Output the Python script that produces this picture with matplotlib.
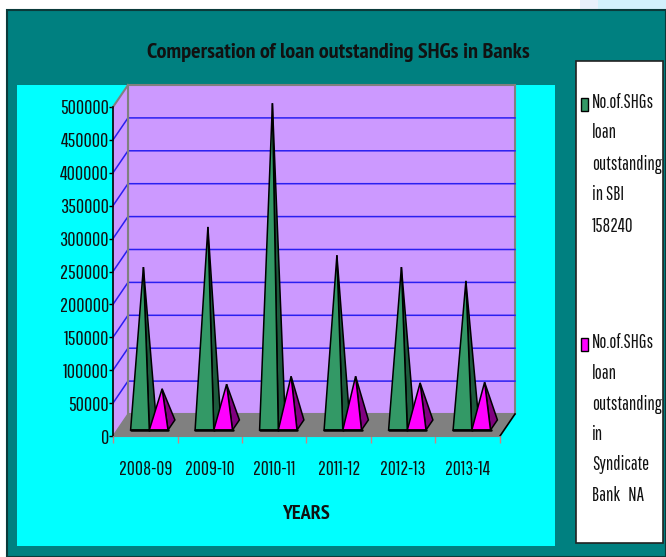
import matplotlib
matplotlib.use("Agg")
import matplotlib.pyplot as plt
from matplotlib.patches import Polygon, Rectangle

# Nombre de SHG par année et par banque
annees = ["2008-09", "2009-10", "2010-11", "2011-12", "2012-13", "2013-14"]
sbi = [240000, 301000, 489000, 258000, 240000, 219000]
syndicate = [55000, 62000, 74000, 74000, 64000, 65000]
yticks = list(range(0, 500001, 50000))

legende_sbi = ["No.of.SHGs", "loan", "outstanding", "in SBI", "158240"]
legende_syn = ["No.of.SHGs", "loan", "outstanding", "in", "Syndicate", "Bank   NA"]

VERT, VERT_F = "#339966", "#1d5a3c"
MAGENTA, MAGENTA_F = "#ff00ff", "#800080"
TEAL = "#008080"
CYAN = "#00ffff"
MAUVE = "#cc99ff"
GRIS = "#808080"
BLEU = "#2a1ff0"
ETROIT = ["Pathway Gothic One", "Liberation Sans"]
ETROIT_GRAS = ["PT Sans Narrow", "Liberation Sans"]

fig = plt.figure(figsize=(6.66, 5.57), dpi=100)

# Fond en pixels
fond = fig.add_axes([0, 0, 1, 1])
fond.set_xlim(0, 666)
fond.set_ylim(557, 0)
fond.axis("off")
fond.add_patch(Rectangle((580, 0), 86, 10, color="#d2f1fc", lw=0))
fond.add_patch(Rectangle((580, 0), 18, 10, color="#e8f0fb", lw=0))
fond.add_patch(Rectangle((7, 10), 659, 547, fc=TEAL, ec="#0b3a3a", lw=1.5))
fond.add_patch(Rectangle((17, 85), 538, 461, color=CYAN, lw=0))
fond.add_patch(Rectangle((576, 61), 87, 482, fc="white", ec="#222222", lw=1.2))

fond.text(338, 53, "Compersation of loan outstanding SHGs in Banks", family=ETROIT_GRAS,
          weight="bold", fontsize=16, ha="center", va="center", color="#111111")
fond.text(306, 514, "YEARS", family=ETROIT_GRAS, weight="bold", fontsize=14.5,
          ha="center", va="center", color="#111111")

# Légende
fond.add_patch(Rectangle((581, 98), 7, 13, fc=VERT, ec="black", lw=1))
fond.add_patch(Rectangle((581, 338), 7, 13, fc=MAGENTA, ec="black", lw=1))
for lignes, y0, pas in [(legende_sbi, 102, 31), (legende_syn, 343, 30.5)]:
    for i, txt in enumerate(lignes):
        fond.text(592, y0 + i * pas, txt, family=ETROIT, fontsize=13.5,
                  ha="left", va="center", color="#111111")

# Graphique : plan avant de 113 à 500 px, 0 en y=436 et 500000 en y=107
ax = fig.add_axes([113 / 666, 1 - 436 / 557, 387 / 666, 329 / 557])
ax.set_xlim(0, len(annees))
ax.set_ylim(0, 500000)
ax.patch.set_visible(False)
for cote in ["top", "right"]:
    ax.spines[cote].set_visible(False)
ax.spines["left"].set_color("black")
ax.spines["bottom"].set_color(GRIS)
ax.spines["left"].set_linewidth(1.2)

PX_X = len(annees) / 387
PX_Y = 500000 / 329


def proj(x, y, d):
    # décalage de perspective, d=0 devant et d=1 au fond
    return x + d * 15 * PX_X, y + d * 22 * PX_Y


def poly(points, **kw):
    ax.add_patch(Polygon([proj(*p) for p in points], clip_on=False, **kw))


n = len(annees)
poly([(0, 0, 0), (n, 0, 0), (n, 0, 1), (0, 0, 1)], fc=GRIS, ec="none", zorder=1)
poly([(0, 0, 1), (n, 0, 1), (n, 500000, 1), (0, 500000, 1)], fc=MAUVE, ec=GRIS, lw=1.5, zorder=1)
poly([(0, 0, 0), (0, 0, 1), (0, 500000, 1), (0, 500000, 0)], fc=MAUVE, ec="none", zorder=1)
ax.plot(*zip(proj(0, 500000, 0), proj(0, 500000, 1)), color=GRIS, lw=1.5, zorder=2, clip_on=False)
ax.plot(*zip(proj(n, 0, 0), proj(n, 0, 1)), color="black", lw=1.2, zorder=2, clip_on=False)
ax.plot(*zip(proj(0, 0, 0), proj(0, 0, 1)), color=GRIS, lw=1, zorder=2, clip_on=False)

for v in yticks[1:-1]:
    ax.plot(*zip(proj(0, v, 0), proj(0, v, 1), proj(n, v, 1)), color=BLEU, lw=1.1,
            zorder=2, clip_on=False)
ax.plot(*zip(proj(0, 0, 1), proj(0, 500000, 1)), color=GRIS, lw=1.5, zorder=2, clip_on=False)

D1, D2 = 0.27, 0.73
LARG = 0.29


def pyramide(x, valeur, face, flanc, z):
    g, dr = x, x + LARG
    sommet = (x + LARG / 2, valeur, 0.5)
    poly([(dr, 0, D1), (dr, 0, D2), sommet], fc=flanc, ec="black", lw=1.1, zorder=z)
    poly([(g, 0, D1), (dr, 0, D1), sommet], fc=face, ec="black", lw=1.1, zorder=z)
    ax.plot(*zip(proj(g, 0, D1), proj(dr, 0, D1)), color="black", lw=1.8, zorder=z,
            clip_on=False, solid_capstyle="round")


# Dessin de gauche à droite pour que chaque pyramide recouvre la précédente
for i in range(n):
    pyramide(i + 0.21, sbi[i], VERT, VERT_F, 3 + i * 2)
    pyramide(i + 0.50, syndicate[i], MAGENTA, MAGENTA_F, 4 + i * 2)

ax.set_yticks(yticks)
ax.set_yticklabels([str(v) for v in yticks], family=ETROIT, fontsize=14.5, color="#111111")
ax.set_xticks(range(n + 1))
ax.set_xticklabels([])
ax.tick_params(axis="x", color="#d08080", length=5, width=1)
ax.tick_params(axis="y", color="black", length=3, width=1, pad=0)
for i, a in enumerate(annees):
    ax.annotate(a, (i + 0.5, 0), xytext=(0, -28), textcoords="offset points", family=ETROIT,
                fontsize=14, ha="center", va="baseline", color="#111111", annotation_clip=False)

fig.savefig("out.png", dpi=100)
